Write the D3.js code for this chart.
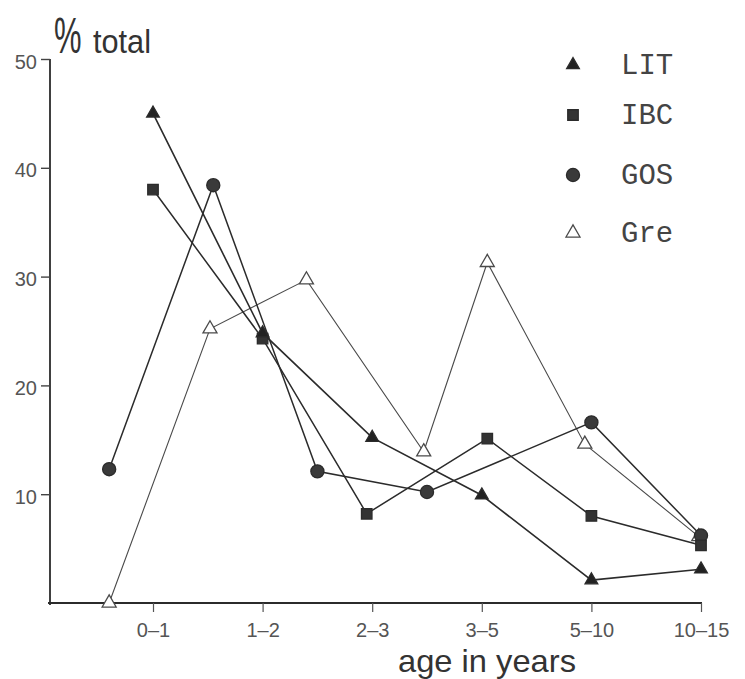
<!DOCTYPE html>
<html>
<head>
<meta charset="utf-8">
<script src="https://cdn.jsdelivr.net/npm/d3@7"></script>
<style>
  html, body { margin: 0; padding: 0; background: #fff; }
  svg { display: block; }
</style>
</head>
<body>
<svg id="chart" width="745" height="679"></svg>
<script>
// ---- data ----
const categories = ["0–1", "1–2", "2–3", "3–5", "5–10", "10–15"];
const categoryIndex = [0, 1, 2, 3, 4, 5];
const yTickValues = [10, 20, 30, 40, 50];

const litX = [0, 1, 2, 3, 4, 5];
const litY = [45.0, 24.8, 15.2, 9.9, 2.1, 3.1];

const ibcX = [0, 1, 1.95, 3.05, 4.0, 5.0];
const ibcY = [38.0, 24.3, 8.2, 15.1, 8.0, 5.3];

const gosX = [-0.4, 0.55, 1.5, 2.5, 4.0, 5.0];
const gosY = [12.3, 38.4, 12.1, 10.2, 16.6, 6.2];

const greX = [-0.4, 0.52, 1.4, 2.47, 3.05, 3.94, 4.98];
const greY = [0.0, 25.2, 29.7, 13.9, 31.3, 14.6, 6.1];

const legendNames = ["LIT", "IBC", "GOS", "Gre"];

// ---- drawing ----
const svg = d3.select("#chart");
const x = d3.scaleLinear().domain([0, 5]).range([153, 701]);
const y = d3.scaleLinear().domain([0, 50]).range([603, 59]);

const ink = "#2b2b2b";

// axes lines
svg.append("line").attr("x1", 50).attr("x2", 50).attr("y1", y(50)).attr("y2", y(0) + 2)
  .attr("stroke", ink).attr("stroke-width", 1.8);
svg.append("line").attr("x1", 48).attr("x2", 702).attr("y1", y(0)).attr("y2", y(0))
  .attr("stroke", ink).attr("stroke-width", 1.8);

// y axis ticks
const yAxis = d3.axisLeft(y).tickValues(yTickValues).tickSize(9).tickSizeOuter(0).tickPadding(4);
const gy = svg.append("g").attr("transform", "translate(50,0)").call(yAxis);
gy.select(".domain").remove();
gy.selectAll("line").attr("stroke", "#444").attr("stroke-width", 1.4);
gy.selectAll("text").attr("font-family", "Liberation Sans, Arial, sans-serif")
  .attr("font-size", 20).attr("fill", "#555").attr("dy", "0.45em");

// x axis ticks
const xAxis = d3.axisBottom(x).tickValues(categoryIndex).tickFormat(i => categories[i])
  .tickSize(9).tickSizeOuter(0).tickPadding(11);
const gx = svg.append("g").attr("transform", `translate(0,${y(0)})`).call(xAxis);
gx.select(".domain").remove();
gx.selectAll("line").attr("stroke", "#555").attr("stroke-width", 1.2);
gx.selectAll("text").attr("font-family", "Liberation Sans, Arial, sans-serif")
  .attr("font-size", 20).attr("fill", "#555");

// axis titles
svg.append("text").attr("transform", "translate(54,53) scale(0.62,1)").text("%")
  .attr("font-family", "Liberation Sans, Arial, sans-serif").attr("font-size", 50)
  .attr("fill", "#333");
svg.append("text").attr("x", 93).attr("y", 53).text("total")
  .attr("font-family", "Liberation Sans, Arial, sans-serif").attr("font-size", 34)
  .attr("textLength", 58).attr("lengthAdjust", "spacingAndGlyphs").attr("fill", "#333");
svg.append("text").attr("x", 398).attr("y", 672).text("age in years")
  .attr("font-family", "Liberation Sans, Arial, sans-serif").attr("font-size", 32)
  .attr("textLength", 178).attr("lengthAdjust", "spacingAndGlyphs").attr("fill", "#333");

const line = d3.line().x(d => x(d[0])).y(d => y(d[1]));
const zip = (a, b) => a.map((v, i) => [v, b[i]]);

const series = [
  { name: "Gre", pts: zip(greX, greY), width: 1.1, color: "#4a4a4a",
    sym: d3.symbolTriangle, size: 85, fill: "#fff" },
  { name: "GOS", pts: zip(gosX, gosY), width: 1.5, color: ink,
    sym: d3.symbolCircle, size: 135, fill: "#3a3a3a" },
  { name: "IBC", pts: zip(ibcX, ibcY), width: 1.5, color: ink,
    sym: d3.symbolSquare, size: 110, fill: "#333" },
  { name: "LIT", pts: zip(litX, litY), width: 1.6, color: ink,
    sym: d3.symbolTriangle, size: 70, fill: "#222" }
];

series.forEach(s => {
  svg.append("path").datum(s.pts).attr("d", line)
    .attr("fill", "none").attr("stroke", s.color).attr("stroke-width", s.width);
});
series.forEach(s => {
  svg.append("g").selectAll("path").data(s.pts).join("path")
    .attr("transform", d => `translate(${x(d[0])},${y(d[1])})`)
    .attr("d", d3.symbol().type(s.sym).size(s.size))
    .attr("fill", s.fill).attr("stroke", s.color).attr("stroke-width", 1.3);
});

// legend
const legendY = [65, 115, 175, 233];
const styleByName = {};
series.forEach(s => styleByName[s.name] = s);
legendNames.forEach((n, i) => {
  const s = styleByName[n];
  svg.append("path").attr("transform", `translate(573,${legendY[i]})`)
    .attr("d", d3.symbol().type(s.sym).size(s.size))
    .attr("fill", s.fill).attr("stroke", s.color).attr("stroke-width", 1.3);
  svg.append("text").attr("x", 621).attr("y", legendY[i] + 9).text(n)
    .attr("font-family", "Liberation Mono, Courier New, monospace").attr("font-size", 29)
    .attr("fill", "#444");
});
</script>
</body>
</html>
